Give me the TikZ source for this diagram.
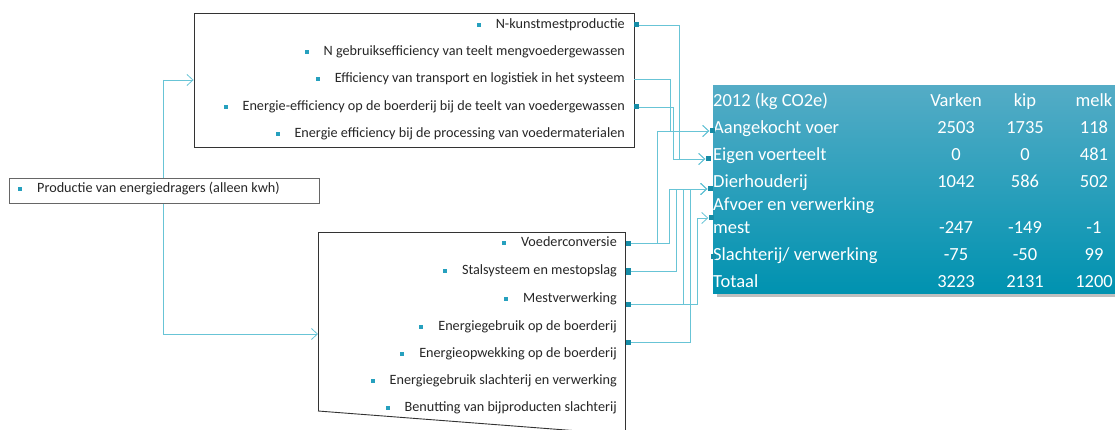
\documentclass[tikz,border=0pt]{standalone}
\usepackage{fontspec}
\setmainfont{Carlito}
\usepackage{tikz}
\usetikzlibrary{arrows.meta, positioning}

\definecolor{linkteal}{RGB}{104,196,214}
\definecolor{portteal}{RGB}{22,140,166}
\definecolor{bulletteal}{RGB}{38,160,190}
\definecolor{tabtop}{RGB}{84,172,198}
\definecolor{tabbot}{RGB}{0,146,176}
\definecolor{txtgray}{RGB}{38,38,38}

\newcommand{\blt}{\textcolor{bulletteal}{\rule[0.28ex]{4pt}{4pt}}\hspace{15pt}}

\tikzset{
	item/.style={anchor=east, inner sep=0pt, text height=10pt, text depth=3pt, text=txtgray, font=\fontsize{14.2}{16}\selectfont},
	port/.style={fill=portteal, minimum size=5pt, inner sep=0pt},
	link/.style={draw=linkteal, line width=0.8pt},
	linkarrow/.style={link, -{Straight Barb[length=6pt,width=11pt]}},
	boxline/.style={draw=black!80, line width=0.9pt},
	cell/.style={text=white, inner sep=0pt, text height=13pt, text depth=4pt, font=\fontsize{18.5}{23}\selectfont},
}

\begin{document}
\begin{tikzpicture}[x=1pt,y=-1pt]
	\useasboundingbox (0,0) rectangle (1115,430);
	\clip (0,0) rectangle (1115,430);

	% table of results
	\fill[black!25] (717,290) rectangle (1120,297);
	\shade[top color=tabtop, bottom color=tabbot] (713,86) rectangle (1120,293);
	\node[cell, anchor=west] (hYear) at (713,102) {2012 (kg CO2e)};
	\node[cell] (hVarken) at (956,102) {Varken};
	\node[cell] (hKip) at (1025,102) {kip};
	\node[cell] (hMelk) at (1094,102) {melk};
	\node[cell, anchor=west] (lAan) at (713,129) {Aangekocht voer};
	\node[cell, anchor=west] (lEigen) at (713,156) {Eigen voerteelt};
	\node[cell, anchor=west] (lDier) at (713,183) {Dierhouderij};
	\node[cell, anchor=west] (lAfv) at (713,206) {Afvoer en verwerking};
	\node[cell, anchor=west] (lMest) at (713,229) {mest};
	\node[cell, anchor=west] (lSlacht) at (713,256) {Slachterij/ verwerking};
	\node[cell, anchor=west] (lTot) at (713,283) {Totaal};
	\foreach \nm/\y/\a/\b/\c in {aan/129/2503/1735/118, eigen/156/0/0/481,
		dier/183/1042/586/502, afv/229/-247/-149/-1, slacht/256/-75/-50/99,
		tot/283/3223/2131/1200}{
		\node[cell] (\nm Varken) at (956,\y) {\a};
		\node[cell] (\nm Kip) at (1025,\y) {\b};
		\node[cell] (\nm Melk) at (1094,\y) {\c};
	}
	\node[port] (rAan) at (712,131) {};
	\node[port] (rEigen) at (708,159) {};
	\node[port] (rDier) at (710,189) {};
	\node[port] (rAfv) at (711,218) {};
	\node[port] (rSlacht) at (713,256) {};

	% upper box
	\node[boxline, minimum width=440pt, minimum height=134pt, inner sep=0pt] (topbox) at (414,80) {};
	\node[item] (tKunst) at (625,25) {\blt N-kunstmestproductie};
	\node[item] (tGebruik) at (625,52) {\blt N gebruiksefficiency van teelt mengvoedergewassen};
	\node[item] (tTransport) at (625,79) {\blt Efficiency van transport en logistiek in het systeem};
	\node[item] (tEnergie) at (625,107) {\blt Energie-efficiency op de boerderij bij de teelt van voedergewassen};
	\node[item] (tProces) at (625,134) {\blt Energie efficiency bij de processing van voedermaterialen};
	\node[port] (tpKunst) at (636,25) {};
	\node[port] (tpEnergie) at (636,107) {};

	% lower box
	\draw[boxline] (318,411) -- (318,232) -- (625,232) -- (625,440);
	\draw[boxline] (318,411) -- (592,432);
	\node[item] (bVoer) at (617,243) {\blt Voederconversie};
	\node[item] (bStal) at (617,271) {\blt Stalsysteem en mestopslag};
	\node[item] (bMest) at (617,299) {\blt Mestverwerking};
	\node[item] (bGebruik) at (617,327) {\blt Energiegebruik op de boerderij};
	\node[item] (bOpwek) at (617,354) {\blt Energieopwekking op de boerderij};
	\node[item] (bSlacht) at (617,381) {\blt Energiegebruik slachterij en verwerking};
	\node[item] (bBenut) at (617,408) {\blt Benutting van bijproducten slachterij};
	\node[port] (bpVoer) at (628,243) {};
	\node[port, minimum height=7pt] (bpStal) at (628,271) {};
	\node[port] (bpMest) at (628,304) {};
	\node[port] (bpGebruik) at (628,342) {};

	% links to the table
	\draw[linkarrow] (tpKunst) -- ++(43,0) |- (rEigen);
	\draw[linkarrow] (topbox.east |- tTransport) -- ++(36,0) |- (rAan);
	\draw[linkarrow] (tpEnergie) -- ++(37,0) |- (rEigen);
	\draw[linkarrow] (bpVoer) -- ++(29,0) |- (rAan);
	\draw[linkarrow] (bpVoer) -- ++(41,0) |- (rDier);
	\draw[linkarrow] (bpStal) -- ++(48,0) |- (rDier);
	\draw[linkarrow] (bpMest) -- ++(55,0) |- (rDier);
	\draw[linkarrow] (bpGebruik) -- ++(62,0) |- (rDier);
	\draw[linkarrow] (bpMest) -- ++(69,0) |- (rAfv);

	% energy carriers
	\coordinate (jTop) at (163,80);
	\coordinate (jBot) at (163,334);
	\coordinate (botIn) at (318,334);
	\draw[link] (jTop) -- (jBot);
	\draw[linkarrow] (jTop) -- (topbox.west);
	\draw[linkarrow] (jBot) -- (botIn);
	\node[draw=black!60, line width=0.8pt, fill=white, minimum width=310pt, minimum height=25pt, inner sep=0pt] (prodbox) at (164,190.5) {};
	\node[item, anchor=west] (prod) at (18,189) {\blt Productie van energiedragers (alleen kwh)};
\end{tikzpicture}
\end{document}
